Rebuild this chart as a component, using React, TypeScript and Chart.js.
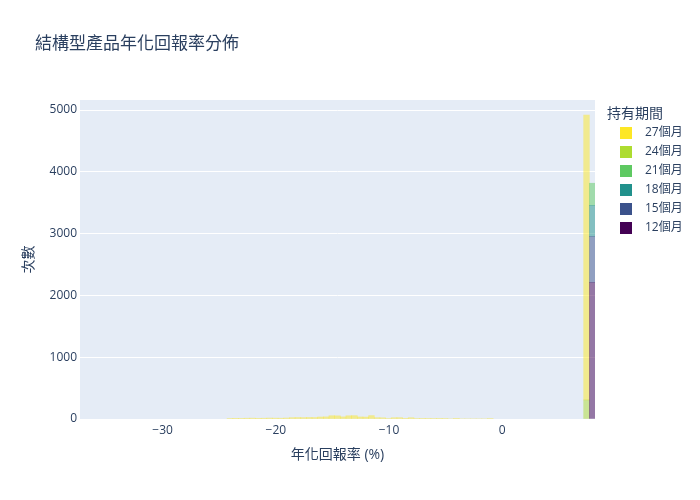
import { useRef, useEffect } from "react"
import { Chart, registerables, Plugin } from "chart.js"

Chart.register(...registerables)

// bin centres (bin width 0.5) of the annualised return histogram
const smallBins = [
    -24.05, -23.55, -23.05, -22.55, -22.05, -21.55, -21.05, -20.55, -20.05, -19.55, -19.05,
    -18.55, -18.05, -17.55, -17.05, -16.55,
    -16.05, -15.55, -15.05, -14.55, -14.05, -13.55, -13.05, -12.55, -12.05, -11.55,
    -11.05, -10.55, -10.05, -9.55, -9.05, -8.55, -8.05,
    -7.55, -7.05, -6.55, -6.05, -5.55, -5.05, -4.55, -4.05,
    -3.55, -3.05, -2.55, -2.05, -1.55, -1.05,
]
const capBinLow = 7.45
const capBinHigh = 7.95

// 27-month counts in the loss-side bins
const counts27Small = [
    9, 11, 10, 12, 13, 11, 12, 14, 13, 12, 15,
    21, 23, 22, 24, 23,
    32, 34, 53, 51, 34, 52, 54, 33, 31, 55,
    21, 19, 8, 20, 21, 6, 20,
    8, 7, 9, 8, 7, 8, 0, 10,
    0, 0, 0, 0, 0, 8,
]
const count27Cap = 4612
const count24Cap = 308
const count21Cap = 357
const count18Cap = 503
const count15Cap = 747
const count12Cap = 2208

const seriesLabels = ["12個月", "15個月", "18個月", "21個月", "24個月", "27個月"]
const seriesColors = ["#440154", "#3b528b", "#21918c", "#5ec962", "#addc30", "#fde725"]
const xTicks = [-30, -20, -10, 0]
const yTicks = [0, 1000, 2000, 3000, 4000, 5000]

const FONT = '"Open Sans", "Noto Sans CJK TC", sans-serif'
const TEXT = "#2a3f5f"

function withAlpha(hex: string, a: number) {
    const n = parseInt(hex.slice(1), 16)
    return `rgba(${(n >> 16) & 255}, ${(n >> 8) & 255}, ${n & 255}, ${a})`
}

const plotBg: Plugin = {
    id: "plotBg",
    beforeDraw(chart) {
        const { ctx, chartArea } = chart
        ctx.save()
        ctx.fillStyle = "#e5ecf6"
        ctx.fillRect(chartArea.left, chartArea.top, chartArea.right - chartArea.left, chartArea.bottom - chartArea.top)
        ctx.restore()
    },
}

// plotly-like title + legend on the right
const titleAndLegend: Plugin = {
    id: "titleAndLegend",
    afterDraw(chart) {
        const { ctx } = chart
        ctx.save()
        ctx.fillStyle = TEXT
        ctx.textBaseline = "middle"
        ctx.textAlign = "left"
        ctx.font = `17px ${FONT}`
        ctx.fillText("結構型產品年化回報率分佈", 35, 44)
        ctx.font = `14px ${FONT}`
        ctx.fillText("持有期間", 607, 114)
        ctx.font = `12px ${FONT}`
        const ds = [...chart.data.datasets].reverse()
        ds.forEach((d, i) => {
            const y = 133 + i * 19
            ctx.fillStyle = (d as any).legendColor
            ctx.fillRect(620, y - 6, 12, 12)
            ctx.fillStyle = TEXT
            ctx.fillText(String(d.label), 645, y)
        })
        ctx.restore()
    },
}

export default function App() {
    const canvasRef = useRef<HTMLCanvasElement | null>(null)
    const chartRef = useRef<Chart | null>(null)

    useEffect(() => {
        document.body.style.margin = "0"
        if (!canvasRef.current) return
        const ctx = canvasRef.current.getContext("2d")
        if (!ctx) return

        const capCounts = [count12Cap, count15Cap, count18Cap, count21Cap]
        const datasets = seriesLabels.map((label, i) => {
            let data: { x: number; y: number }[] = []
            if (i < 4) data = [{ x: capBinHigh, y: capCounts[i] }]
            if (i === 4) data = [{ x: capBinLow, y: count24Cap }]
            if (i === 5) {
                data = smallBins.map((x, k) => ({ x, y: counts27Small[k] }))
                data.push({ x: capBinLow, y: count27Cap })
            }
            return {
                label,
                data,
                backgroundColor: withAlpha(seriesColors[i], 0.5),
                legendColor: seriesColors[i],
                borderWidth: 0,
                barPercentage: 1,
                categoryPercentage: 1,
            }
        })

        chartRef.current = new Chart(ctx, {
            type: "bar",
            data: { datasets: datasets as any },
            plugins: [plotBg, titleAndLegend],
            options: {
                responsive: false,
                animation: false,
                layout: { padding: { top: 100, right: 105, bottom: 0, left: 0 } },
                plugins: {
                    legend: { display: false },
                    title: { display: false },
                    tooltip: { enabled: false },
                },
                scales: {
                    x: {
                        type: "linear",
                        stacked: true,
                        offset: false,
                        min: -37.3,
                        max: 8.2,
                        grid: { display: false, drawTicks: false },
                        border: { display: false },
                        afterBuildTicks: (scale) => {
                            scale.ticks = xTicks.map((v) => ({ value: v }))
                        },
                        afterFit: (scale) => {
                            scale.height = 81
                        },
                        ticks: {
                            padding: 4,
                            maxRotation: 0,
                            color: TEXT,
                            font: { size: 12, family: FONT },
                            callback: (v) => String(v).replace("-", "\u2212"),
                        },
                        title: {
                            display: true,
                            text: "年化回報率 (%)",
                            color: TEXT,
                            font: { size: 14, family: FONT },
                            padding: { top: 0, bottom: 37 },
                        },
                    },
                    y: {
                        stacked: true,
                        min: 0,
                        max: 5162,
                        grid: { color: "#ffffff", lineWidth: 1, drawTicks: false },
                        border: { display: false },
                        afterBuildTicks: (scale) => {
                            scale.ticks = yTicks.map((v) => ({ value: v }))
                        },
                        afterFit: (scale) => {
                            scale.width = 80
                        },
                        ticks: {
                            padding: 3,
                            color: TEXT,
                            font: { size: 12, family: FONT },
                            callback: (v) => String(v),
                        },
                        title: {
                            display: true,
                            text: "次數",
                            color: TEXT,
                            font: { size: 14, family: FONT },
                            padding: { top: 21, bottom: 0 },
                        },
                    },
                },
            },
        })

        return () => {
            if (chartRef.current) {
                chartRef.current.destroy()
                chartRef.current = null
            }
        }
    }, [])

    return (
        <div style={{ width: 700, height: 500, background: "#ffffff" }}>
            <canvas ref={canvasRef} width={700} height={500} />
        </div>
    )
}
